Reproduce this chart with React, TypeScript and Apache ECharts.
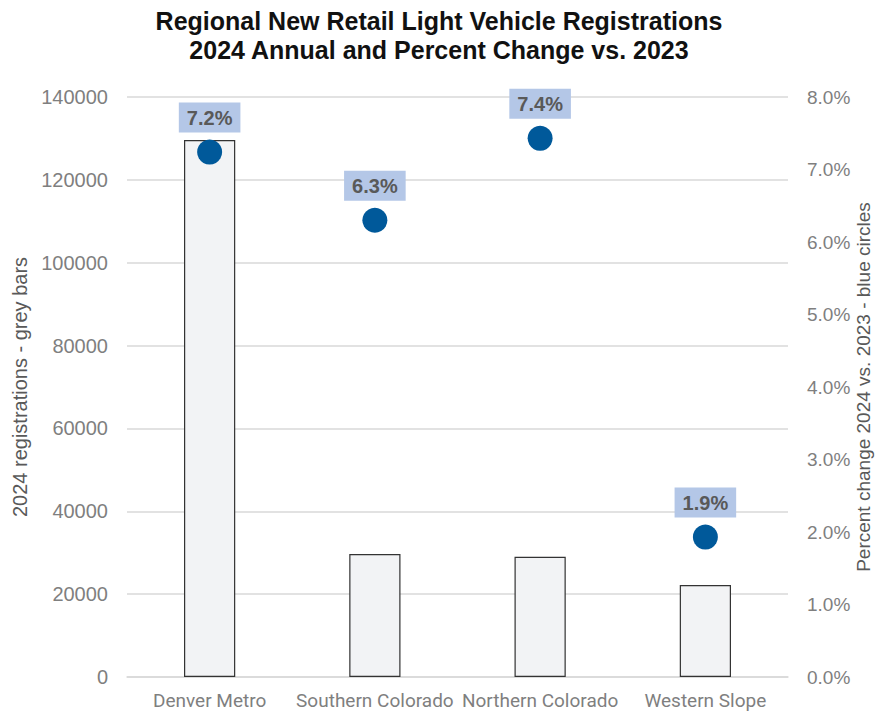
import React, { useEffect, useRef } from "react";
import * as echarts from "echarts";

const categories = ["Denver Metro", "Southern Colorado", "Northern Colorado", "Western Slope"];
const registrations2024 = [129600, 29700, 29000, 22200];
const pctChange = [7.24, 6.3, 7.43, 1.93];

const titleText = "Regional New Retail Light Vehicle Registrations\n2024 Annual and Percent Change vs. 2023";
const leftAxisName = "2024 registrations - grey bars";
const rightAxisName = "Percent change 2024 vs. 2023 - blue circles";

export default function App() {
  const ref = useRef<HTMLDivElement>(null);
  useEffect(() => {
    document.body.style.margin = "0";
    const chart = echarts.init(ref.current!, undefined, { renderer: "svg" });
    chart.setOption({
      animation: false,
      backgroundColor: "#ffffff",
      title: {
        text: titleText,
        left: "center",
        top: 1,
        textStyle: {
          fontFamily: "Liberation Sans, sans-serif",
          fontWeight: "bold",
          fontSize: 25,
          lineHeight: 29,
          color: "#111111",
        },
      },
      grid: { left: 127, right: 90, top: 97, bottom: 38, outerBoundsMode: "none", containLabel: false },
      xAxis: {
        type: "category",
        data: categories,
        axisLine: { lineStyle: { color: "#d9d9d9", width: 1.5 } },
        axisTick: { show: false },
        axisLabel: {
          fontFamily: "Roboto, sans-serif",
          fontSize: 19,
          color: "#7f7f7f",
          margin: 14,
          interval: 0,
        },
      },
      yAxis: [
        {
          type: "value",
          min: 0,
          max: 140000,
          interval: 20000,
          position: "left",
          name: leftAxisName,
          nameLocation: "middle",
          nameGap: 97,
          nameMoveOverlap: false,
          nameTextStyle: {
            fontFamily: "Liberation Sans, sans-serif",
            fontSize: 20,
            lineHeight: 20,
            color: "#595959",
          },
          axisLine: { show: false },
          axisTick: { show: false },
          axisLabel: {
            fontFamily: "Liberation Sans, sans-serif",
            fontSize: 20,
            color: "#7f7f7f",
            margin: 19,
            formatter: (v: number) => String(v),
          },
          splitLine: { lineStyle: { color: "#d9d9d9", width: 1.5 } },
        },
        {
          type: "value",
          min: 0,
          max: 8,
          interval: 1,
          position: "right",
          name: rightAxisName,
          nameLocation: "middle",
          nameGap: 66,
          nameMoveOverlap: false,
          nameRotate: 90,
          nameTextStyle: {
            fontFamily: "Liberation Sans, sans-serif",
            fontSize: 19,
            lineHeight: 19,
            color: "#595959",
          },
          axisLine: { show: false },
          axisTick: { show: false },
          axisLabel: {
            fontFamily: "Liberation Sans, sans-serif",
            fontSize: 19,
            color: "#7f7f7f",
            margin: 19,
            formatter: (v: number) => v.toFixed(1) + "%",
          },
          splitLine: { show: false },
        },
      ],
      series: [
        {
          type: "bar",
          data: registrations2024,
          yAxisIndex: 0,
          barWidth: "31%",
          itemStyle: { color: "#f2f3f5", borderColor: "#333333", borderWidth: 1.2 },
        },
        {
          type: "scatter",
          data: pctChange,
          yAxisIndex: 1,
          symbolSize: 25,
          itemStyle: { color: "#00599a", opacity: 1 },
          label: {
            show: true,
            position: "top",
            distance: 7,
            formatter: (p: any) => p.value.toFixed(1) + "%",
            fontFamily: "Liberation Sans, sans-serif",
            fontWeight: "bold",
            fontSize: 20,
            color: "#595959",
            backgroundColor: "#b4c7e7",
            padding: [5, 8, 5, 8],
          },
        },
      ],
    });
    return () => chart.dispose();
  }, []);
  return <div ref={ref} style={{ width: 878, height: 715, position: "absolute", left: 0, top: 0 }} />;
}
